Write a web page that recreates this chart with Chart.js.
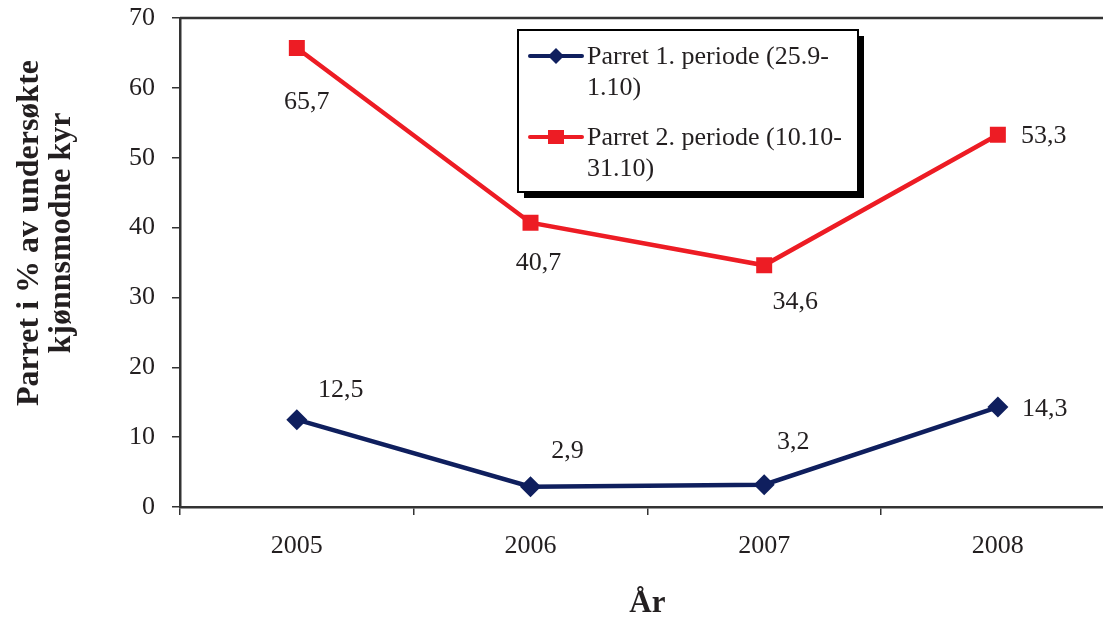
<!DOCTYPE html>
<html lang="no">
<head>
  <meta charset="UTF-8">
  <title>Parret i % av undersøkte kjønnsmodne kyr</title>
  <script src="https://cdn.jsdelivr.net/npm/chart.js"></script>
  <style>
    html, body {
      margin: 0;
      padding: 0;
      background: #ffffff;
      overflow: hidden;
    }
    #wrap {
      width: 1126px;
      height: 618px;
    }
  </style>
</head>
<body>
  <div id="wrap">
    <canvas id="chart" width="1126" height="618"></canvas>
  </div>

  <script>
    const years = ['2005', '2006', '2007', '2008'];
    const periode1 = [12.5, 2.9, 3.2, 14.3];
    const periode2 = [65.7, 40.7, 34.6, 53.3];
    const seriesNames = [
      ['Parret 1. periode (25.9-', '1.10)'],
      ['Parret 2. periode (10.10-', '31.10)']
    ];
    const yTitle = ['Parret i % av undersøkte', 'kjønnsmodne kyr'];
    const xTitle = 'År';

    const BLUE = '#0f1f5e';
    const RED = '#ed1c24';
    const INK = '#231f20';
    const SERIF = '"Liberation Serif", "Times New Roman", serif';

    // where each value label sits relative to its point (px)
    const labelOffsets = [
      [[44, -30], [37, -36], [29, -42], [47, 2]],
      [[10, 54], [8, 40], [31, 37], [46, 2]]
    ];

    const fmt = v => v.toFixed(1).replace('.', ',');

    const extras = {
      id: 'extras',
      afterDatasetsDraw(chart) {
        const c = chart.ctx;
        const a = chart.chartArea;
        c.save();

        // top frame line
        c.strokeStyle = '#333';
        c.lineWidth = 2.5;
        c.beginPath();
        c.moveTo(a.left, a.top);
        c.lineTo(a.right, a.top);
        c.stroke();

        // value labels
        c.font = '26px ' + SERIF;
        c.fillStyle = INK;
        c.textAlign = 'center';
        c.textBaseline = 'middle';
        chart.data.datasets.forEach((ds, i) => {
          chart.getDatasetMeta(i).data.forEach((pt, j) => {
            const o = labelOffsets[i][j];
            c.fillText(fmt(ds.data[j]), pt.x + o[0], pt.y + o[1]);
          });
        });

        // x axis title
        c.font = 'bold 31px ' + SERIF;
        c.fillText(xTitle, (a.left + a.right) / 2, 604);

        // y axis title
        c.font = 'bold 32px ' + SERIF;
        c.translate(46, 233);
        c.rotate(-Math.PI / 2);
        c.fillText(yTitle[0], 0, -16);
        c.fillText(yTitle[1], 0, 16);
        c.setTransform(1, 0, 0, 1, 0, 0);

        // legend box with shadow
        const bx = 518, by = 30, bw = 340, bh = 162;
        c.fillStyle = '#000';
        c.fillRect(bx + 6, by + 6, bw, bh);
        c.fillStyle = '#fff';
        c.fillRect(bx, by, bw, bh);
        c.strokeStyle = '#000';
        c.lineWidth = 2;
        c.strokeRect(bx, by, bw, bh);

        const rows = [56, 137];
        const colors = [BLUE, RED];
        c.font = '26px ' + SERIF;
        c.textAlign = 'left';
        rows.forEach((ry, i) => {
          c.strokeStyle = colors[i];
          c.lineWidth = 4;
          c.lineCap = 'round';
          c.beginPath();
          c.moveTo(530, ry);
          c.lineTo(582, ry);
          c.stroke();
          c.fillStyle = colors[i];
          if (i === 0) {
            c.beginPath();
            c.moveTo(556, ry - 8);
            c.lineTo(564, ry);
            c.lineTo(556, ry + 8);
            c.lineTo(548, ry);
            c.closePath();
            c.fill();
          } else {
            c.fillRect(548, ry - 7, 16, 14);
          }
          c.fillStyle = INK;
          c.fillText(seriesNames[i][0], 587, ry + 1);
          c.fillText(seriesNames[i][1], 587, ry + 32);
        });

        c.restore();
      }
    };

    new Chart(document.getElementById('chart'), {
      type: 'line',
      data: {
        labels: years,
        datasets: [
          {
            label: seriesNames[0].join(''),
            data: periode1,
            borderColor: BLUE,
            backgroundColor: BLUE,
            borderWidth: 4.5,
            pointStyle: 'rectRot',
            pointRadius: 10.5,
            pointBorderWidth: 0,
            tension: 0
          },
          {
            label: seriesNames[1].join(''),
            data: periode2,
            borderColor: RED,
            backgroundColor: RED,
            borderWidth: 4.5,
            pointStyle: 'rect',
            pointRadius: 11.3,
            pointBorderWidth: 0,
            tension: 0
          }
        ]
      },
      options: {
        responsive: false,
        animation: false,
        layout: { padding: { top: 18, right: 2, left: 0, bottom: 0 } },
        plugins: {
          legend: { display: false },
          tooltip: { enabled: false }
        },
        scales: {
          x: {
            offset: true,
            border: { color: '#333', width: 2.5 },
            grid: {
              offset: true,
              drawOnChartArea: false,
              drawTicks: true,
              tickLength: 8,
              color: '#333',
              lineWidth: 1.5
            },
            ticks: {
              color: INK,
              padding: 16,
              font: { family: SERIF, size: 26 }
            },
            afterFit(scale) { scale.height = 111; }
          },
          y: {
            min: 0,
            max: 70,
            border: { color: '#333', width: 2.5 },
            grid: {
              drawOnChartArea: false,
              drawTicks: true,
              tickLength: 8,
              color: '#333',
              lineWidth: 1.5
            },
            ticks: {
              stepSize: 10,
              color: INK,
              padding: 17,
              font: { family: SERIF, size: 26 }
            },
            afterFit(scale) {
              scale.width = 180;
              scale.paddingTop = 0;
              scale.paddingBottom = 0;
            }
          }
        }
      },
      plugins: [extras]
    });
  </script>
</body>
</html>
